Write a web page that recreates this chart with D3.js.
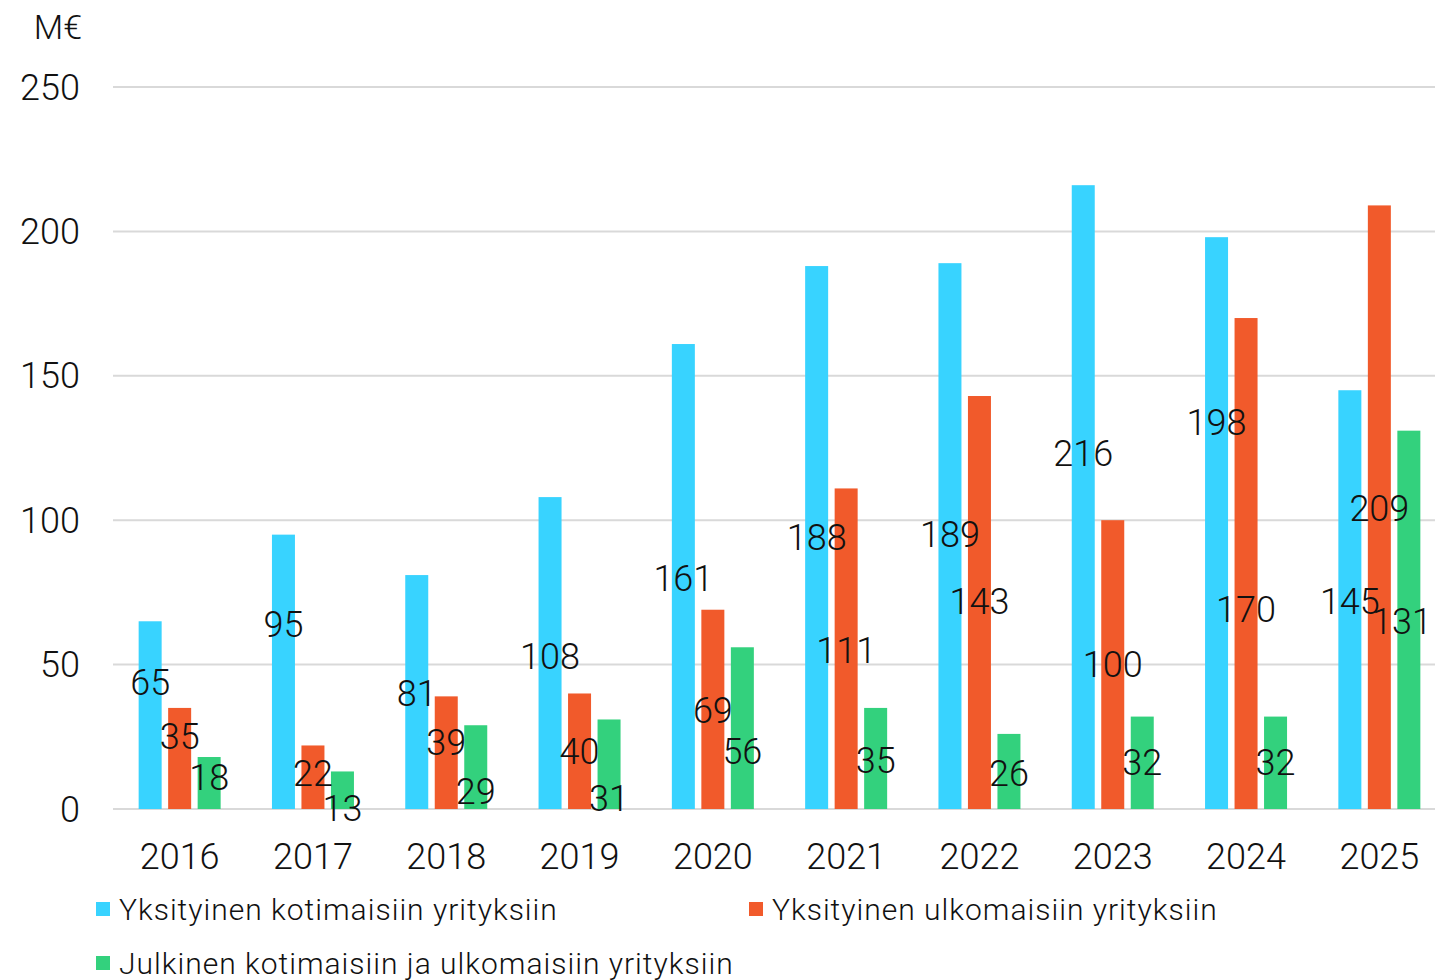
<!DOCTYPE html>
<html>
<head>
<meta charset="utf-8">
<script src="https://cdn.jsdelivr.net/npm/d3@7"></script>
<style>
  body { margin: 0; background: #fff; }
  svg text { font-family: Roboto, "Noto Sans", sans-serif; font-weight: 300; fill: #111; }
</style>
</head>
<body>
<svg id="chart" width="1435" height="980"></svg>
<script>
// Data
const years = ["2016", "2017", "2018", "2019", "2020", "2021", "2022", "2023", "2024", "2025"];
const seriesNames = [
    "Yksityinen kotimaisiin yrityksiin",
    "Yksityinen ulkomaisiin yrityksiin",
    "Julkinen kotimaisiin ja ulkomaisiin yrityksiin"
];
const privateDomestic = [65, 95, 81, 108, 161, 188, 189, 216, 198, 145];
const privateForeign = [35, 22, 39, 40, 69, 111, 143, 100, 170, 209];
const publicAll = [18, 13, 29, 31, 56, 35, 26, 32, 32, 131];
// where the value labels sit, in M€ (as in the original)
const labelDomestic = [44, 64, 40, 53, 80, 94, 95, 123, 134, 72];
const labelForeign = [25, 12.5, 23, 20, 34, 55, 72, 50, 69, 104];
const labelPublic = [11, 0.3, 6, 3.5, 20, 17, 12.5, 16, 16, 65];
const yTicks = [0, 50, 100, 150, 200, 250];
const colors = ["#38d3ff", "#f15a2b", "#33d17d"];

const series = [privateDomestic, privateForeign, publicAll];
const labelAt = [labelDomestic, labelForeign, labelPublic];

const svg = d3.select("#chart");
const width = 1435, height = 980;
const plotLeft = 113, plotBottom = 809, plotTop = 87;

// last group runs a bit past the right edge
const x = d3.scaleBand().domain(years).range([plotLeft, plotLeft + 1333]);
const y = d3.scaleLinear().domain([0, 250]).range([plotBottom, plotTop]);

const barW = 23, step = 29.5;
const offset = i => x.bandwidth() / 2 + (i - 1) * step - barW / 2;

// Grid
svg.append("g")
    .selectAll("line")
    .data(yTicks)
    .join("line")
    .attr("x1", plotLeft)
    .attr("x2", width)
    .attr("y1", d => y(d))
    .attr("y2", d => y(d))
    .attr("stroke", "#d9d9d9")
    .attr("stroke-width", 2);

// Y labels
svg.append("g")
    .selectAll("text")
    .data(yTicks)
    .join("text")
    .attr("x", 80)
    .attr("y", d => y(d))
    .attr("dy", "0.35em")
    .attr("text-anchor", "end")
    .attr("font-size", 36)
    .text(d => d);

svg.append("text")
    .attr("x", 82)
    .attr("y", 27)
    .attr("dy", "0.35em")
    .attr("text-anchor", "end")
    .attr("font-size", 34)
    .text("M€");

// Bars
series.forEach((vals, i) => {
    svg.append("g")
        .selectAll("rect")
        .data(vals)
        .join("rect")
        .attr("x", (d, j) => x(years[j]) + offset(i))
        .attr("y", d => y(d))
        .attr("width", barW)
        .attr("height", d => y(0) - y(d))
        .attr("fill", colors[i]);
});

// Value labels
series.forEach((vals, i) => {
    svg.append("g")
        .selectAll("text")
        .data(vals)
        .join("text")
        .attr("x", (d, j) => x(years[j]) + offset(i) + barW / 2)
        .attr("y", (d, j) => y(labelAt[i][j]))
        .attr("dy", "0.35em")
        .attr("text-anchor", "middle")
        .attr("font-size", 36)
        .text(d => d)
        .each(function () {
            // keep labels inside the right edge
            const b = this.getBBox();
            if (b.x + b.width > width - 3) {
                d3.select(this).attr("text-anchor", "end").attr("x", width - 3);
            }
        });
});

// X labels
svg.append("g")
    .selectAll("text")
    .data(years)
    .join("text")
    .attr("x", d => x(d) + x.bandwidth() / 2)
    .attr("y", 856)
    .attr("dy", "0.35em")
    .attr("text-anchor", "middle")
    .attr("font-size", 36)
    .text(d => d);

// Legend
const legendPos = [[96, 909], [749, 909], [96, 963]];
seriesNames.forEach((name, i) => {
    const g = svg.append("g").attr("transform", `translate(${legendPos[i][0]},${legendPos[i][1]})`);
    g.append("rect").attr("x", 0).attr("y", -7).attr("width", 14).attr("height", 14).attr("fill", colors[i]);
    g.append("text")
        .attr("x", 23)
        .attr("y", 0)
        .attr("dy", "0.35em")
        .attr("font-size", 30)
        .attr("letter-spacing", 1)
        .text(name);
});
</script>
</body>
</html>
